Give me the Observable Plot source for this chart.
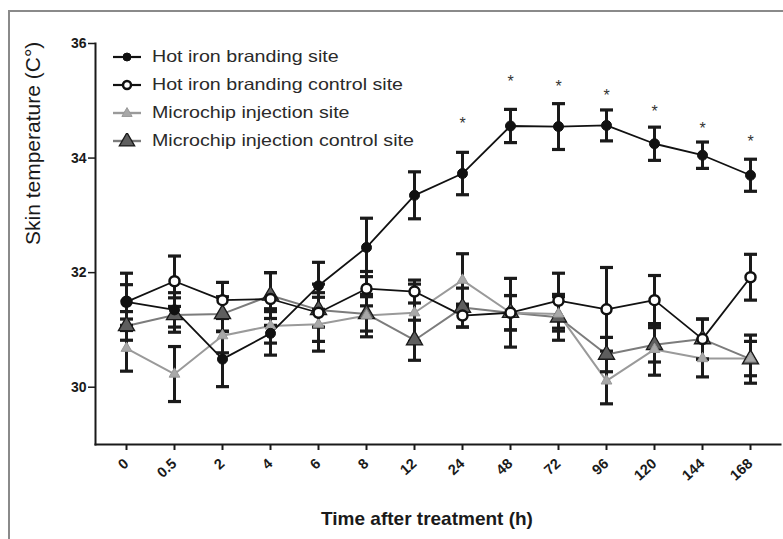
<!DOCTYPE html>
<html>
<head>
<meta charset="utf-8">
<script src="https://cdn.jsdelivr.net/npm/d3@7"></script>
<script src="https://cdn.jsdelivr.net/npm/@observablehq/plot@0.6"></script>
<style>
  html, body { margin: 0; padding: 0; background: #fff; }
  #wrap { position: relative; width: 783px; height: 539px; overflow: hidden; font-family: "Liberation Sans", Arial, sans-serif; }
  #border { position: absolute; left: 8px; top: 10px; width: 900px; height: 700px; border-left: 2px solid #8a8a8a; border-top: 2px solid #8a8a8a; pointer-events: none; }
  #legend { position: absolute; left: 112px; top: 43px; }
  .row { display: flex; align-items: center; height: 27.9px; }
  .row svg { width: 30px; height: 16px; margin-right: 10px; }
  .row span { font-size: 16.5px; color: #2a2a2a; display: inline-block; transform: scaleX(1.19); transform-origin: left center; white-space: nowrap; }
  #chart { position: absolute; left: 0; top: 0; }
</style>
</head>
<body>
<div id="wrap">
  <div id="chart"></div>
  <div id="border"></div>
  <div id="legend"></div>
</div>
<script>
const times = ["0","0.5","2","4","6","8","12","24","48","72","96","120","144","168"];
const hotSite    = [31.49,31.35,30.49,30.94,31.77,32.44,33.35,33.73,34.56,34.55,34.57,34.25,34.05,33.70];
const hotSiteErr = [0.50,0.30,0.48,0.38,0.41,0.51,0.41,0.37,0.29,0.40,0.27,0.29,0.23,0.28];
const hotCtrl    = [31.49,31.85,31.52,31.54,31.30,31.72,31.67,31.25,31.30,31.51,31.36,31.52,30.84,31.92];
const hotCtrlErr = [0.30,0.44,0.31,0.46,0.50,0.30,0.20,0.20,0.60,0.48,0.73,0.43,0.35,0.40];
const chipSite    = [30.68,30.23,30.90,31.07,31.10,31.25,31.30,31.87,31.30,31.28,30.11,30.66,30.50,30.50];
const chipSiteErr = [0.40,0.48,0.30,0.30,0.47,0.37,0.50,0.46,0.30,0.30,0.40,0.45,0.32,0.30];
const chipCtrl    = [31.07,31.26,31.28,31.60,31.35,31.28,30.82,31.39,31.30,31.22,30.57,30.74,30.84,30.49];
const chipCtrlErr = [0.25,0.30,0.30,0.40,0.30,0.30,0.35,0.34,0.30,0.40,0.30,0.30,0.35,0.42];
const starTimes  = ["24","48","72","96","120","144","168"];
const starValues = [34.66,35.40,35.31,35.15,34.88,34.58,34.35];
const seriesNames = ["Hot iron branding site","Hot iron branding control site","Microchip injection site","Microchip injection control site"];
const yTicks = [30,32,34,36];
const xTitle = "Time after treatment (h)";
const yTitle = "Skin temperature (C°)";

const styles = [
  {line: "#111", lw: 1.8, symbol: "circle", r: 5, fill: "#111", stroke: "#111", sw: 1},
  {line: "#111", lw: 1.8, symbol: "circle", r: 5, fill: "#fff", stroke: "#111", sw: 2.5},
  {line: "#9a9a9a", lw: 2, symbol: "triangle", r: 4, fill: "#a8a8a8", stroke: "#999", sw: 1},
  {line: "#7c7c7c", lw: 2, symbol: "triangle", r: 6, fill: "#5e5e5e", stroke: "#1a1a1a", sw: 1.3}
];
const valuesList = [hotSite, hotCtrl, chipSite, chipCtrl];
const errList = [hotSiteErr, hotCtrlErr, chipSiteErr, chipCtrlErr];
const series = seriesNames.map((name, i) => ({
  name, style: styles[i],
  rows: times.map((t, j) => ({t, v: valuesList[i][j], e: errList[i][j]}))
}));
const stars = starTimes.map((t, i) => ({t, v: starValues[i]}));

// horizontal cap symbol for error bars
const capSymbol = {
  draw(context, size) {
    const h = Math.sqrt(size / Math.PI);
    context.moveTo(-h, 0);
    context.lineTo(h, 0);
  }
};

const drawOrder = [3, 2, 1, 0];
const marks = [];
for (const i of drawOrder) {
  const s = series[i];
  marks.push(Plot.line(s.rows, {x: "t", y: "v", stroke: s.style.line, strokeWidth: s.style.lw}));
}
for (const i of drawOrder) {
  const s = series[i];
  marks.push(Plot.ruleX(s.rows, {x: "t", y1: d => d.v - d.e, y2: d => d.v + d.e, stroke: "#1a1a1a", strokeWidth: 3}));
  marks.push(Plot.dot(s.rows, {x: "t", y: d => d.v + d.e, symbol: capSymbol, r: 6.5, fill: "none", stroke: "#1a1a1a", strokeWidth: 3.2}));
  marks.push(Plot.dot(s.rows, {x: "t", y: d => d.v - d.e, symbol: capSymbol, r: 6.5, fill: "none", stroke: "#1a1a1a", strokeWidth: 3.2}));
}
for (const i of drawOrder) {
  const s = series[i];
  marks.push(Plot.dot(s.rows, {x: "t", y: "v", symbol: s.style.symbol, r: s.style.r, fill: s.style.fill, stroke: s.style.stroke, strokeWidth: s.style.sw}));
}

const chart = Plot.plot({
  width: 783,
  height: 539,
  marginLeft: 95,
  marginRight: 3,
  marginTop: 43,
  marginBottom: 95,
  style: {fontFamily: "'Liberation Sans', Arial, sans-serif", color: "#1a1a1a", background: "transparent"},
  x: {type: "point", domain: times, padding: 0.5},
  y: {domain: [29, 36]},
  marks: [
    Plot.frame({anchor: "left", strokeWidth: 2}),
    Plot.frame({anchor: "bottom", strokeWidth: 2}),
    Plot.axisY({ticks: yTicks, tickFormat: d3.format("d"), tickSize: 7, tickPadding: 2, fontSize: 14, fontWeight: "bold", strokeWidth: 1.5, label: null}),
    Plot.axisX({tickRotate: -42, tickSize: 6, tickPadding: 11, fontSize: 14.5, fontWeight: "bold", strokeWidth: 2, label: null}),
    ...marks,
    Plot.text(stars, {x: "t", y: "v", text: () => "*", fontSize: 16, fill: "#333", dy: 4}),
    Plot.text([yTitle], {frameAnchor: "left", text: d => d, rotate: -90, dx: -62, dy: 1, fontSize: 21, fill: "#1a1a1a"}),
    Plot.text([xTitle], {frameAnchor: "bottom", text: d => d, dx: -11, dy: 80, fontSize: 19, fontWeight: "bold", fontFamily: "'Liberation Sans Narrow', 'Arial Narrow', sans-serif", fill: "#1a1a1a"})
  ]
});
document.getElementById("chart").appendChild(chart);

// legend
const legend = document.getElementById("legend");
series.forEach(s => {
  const row = document.createElement("div");
  row.className = "row";
  const st = s.style;
  const sym = st.symbol === "circle"
    ? `<circle cx="15" cy="8" r="${st.r - 1}" fill="${st.fill}" stroke="${st.stroke}" stroke-width="${st.sw}"/>`
    : `<path transform="translate(15,8.5)" d="${d3.symbol(d3.symbolTriangle, Math.PI * st.r * st.r * 0.9)()}" fill="${st.fill}" stroke="${st.stroke}" stroke-width="${st.sw}"/>`;
  row.innerHTML = `<svg viewBox="0 0 30 16"><line x1="1" x2="29" y1="8" y2="8" stroke="${st.line}" stroke-width="${st.lw + 0.4}"/>${sym}</svg><span>${s.name}</span>`;
  legend.appendChild(row);
});
</script>
</body>
</html>
